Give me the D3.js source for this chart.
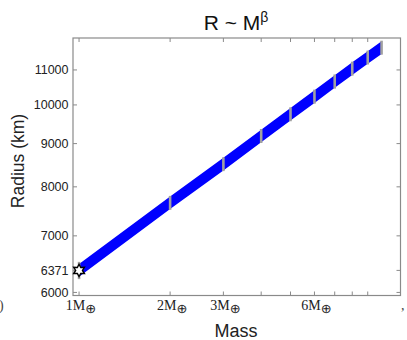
<!DOCTYPE html>
<html>
<head>
<meta charset="utf-8">
<script src="https://cdn.jsdelivr.net/npm/d3@7/dist/d3.min.js"></script>
<style>
  html, body { margin: 0; padding: 0; background: #fff; }
  svg { display: block; }
</style>
</head>
<body>
<svg id="chart" width="407" height="340"></svg>
<script>
// Planet mass (Earth masses) and radius (km) along the R ~ M^beta relation
const masses = [1, 2, 3, 4, 5, 6, 7, 8, 9, 10];
const radii = [6371, 7660, 8510, 9190, 9750, 10230, 10660, 11040, 11380, 11690];
const radiusErr = [150, 145, 160, 175, 185, 195, 205, 210, 215, 222];

// Earth reference point
const earthMass = [1];
const earthRadius = [6371];

// Axis ticks
const yTicks = [6000, 6371, 7000, 8000, 9000, 10000, 11000];
const xTicks = [1, 2, 3, 4, 5, 6, 7, 8, 9];
const xLabelled = [1, 2, 3, 6];

const svg = d3.select("#chart");
const plotL = 73, plotR = 400.5, plotT = 38, plotB = 295.5;

const x = d3.scaleLog().domain([0.955, 11.55]).range([plotL, plotR]);
const y = d3.scaleLog().domain([5950, 12000]).range([plotB, plotT]);

const frameColor = "#8a8a8a";
const tickLen = 4;

// Blue band of the power-law fit
const bandHalf = 6.3;
const pts = masses.map((m, i) => ({ m, r: radii[i], e: radiusErr[i] }));
svg.append("path")
  .datum(pts)
  .attr("fill", "#0000ff")
  .attr("d", d3.area()
    .x(d => x(d.m))
    .y0(d => y(d.r) + bandHalf)
    .y1(d => y(d.r) - bandHalf));

// Grey uncertainty bars at each mass
svg.append("g").selectAll("line")
  .data(pts)
  .join("line")
  .attr("x1", d => x(d.m)).attr("x2", d => x(d.m))
  .attr("y1", d => y(d.r - d.e)).attr("y2", d => y(d.r + d.e))
  .attr("stroke", "#a0a0a0")
  .attr("stroke-width", 2.6);

// Frame
svg.append("rect")
  .attr("x", plotL).attr("y", plotT)
  .attr("width", plotR - plotL).attr("height", plotB - plotT)
  .attr("fill", "none")
  .attr("stroke", frameColor)
  .attr("stroke-width", 1.2);

// Inward ticks on all four sides
const tg = svg.append("g").attr("stroke", frameColor).attr("stroke-width", 1);
yTicks.forEach(v => {
  tg.append("line").attr("x1", plotL).attr("x2", plotL + tickLen).attr("y1", y(v)).attr("y2", y(v));
  tg.append("line").attr("x1", plotR).attr("x2", plotR - tickLen).attr("y1", y(v)).attr("y2", y(v));
});
xTicks.forEach(v => {
  tg.append("line").attr("x1", x(v)).attr("x2", x(v)).attr("y1", plotB).attr("y2", plotB - tickLen);
  tg.append("line").attr("x1", x(v)).attr("x2", x(v)).attr("y1", plotT).attr("y2", plotT + tickLen);
});

// Y tick labels
svg.append("g").selectAll("text")
  .data(yTicks)
  .join("text")
  .attr("x", plotL - 4.5)
  .attr("y", d => y(d))
  .attr("dy", "0.35em")
  .attr("text-anchor", "end")
  .attr("font-family", "'Liberation Sans', Arial, sans-serif")
  .attr("font-size", 12.5)
  .attr("fill", "#222")
  .text(d => d);

// X tick labels: nM⊕
const xl = svg.append("g").selectAll("text")
  .data(xLabelled)
  .join("text")
  .attr("x", d => x(d) + 2)
  .attr("y", 310)
  .attr("text-anchor", "middle")
  .attr("font-family", "'Liberation Serif', 'Times New Roman', serif")
  .attr("font-size", 14)
  .attr("fill", "#222");
xl.append("tspan").text(d => d + "M");
xl.append("tspan").attr("dy", 2.5).attr("font-size", 13)
  .attr("font-family", "'DejaVu Sans', sans-serif").text("\u2295");

// Earth marker: six-pointed star
const starPts = d3.range(12).map(i => [i * Math.PI / 6, i % 2 === 0 ? 6.2 : 3.4]);
const starPath = d3.lineRadial().curve(d3.curveLinearClosed)(starPts);
svg.append("g").selectAll("path")
  .data(earthMass.map((m, i) => ({ m, r: earthRadius[i] })))
  .join("path")
  .attr("transform", d => `translate(${x(d.m)},${y(d.r)})`)
  .attr("d", starPath)
  .attr("fill", "#fff")
  .attr("stroke", "#000")
  .attr("stroke-width", 1.4);

// Titles
const title = svg.append("text")
  .attr("x", 236).attr("y", 30)
  .attr("text-anchor", "middle")
  .attr("font-family", "'Liberation Sans', Arial, sans-serif")
  .attr("font-size", 21)
  .attr("fill", "#111");
title.append("tspan").text("R ~ M");
title.append("tspan").attr("dy", -8).attr("font-size", 14).text("\u03b2");

svg.append("text")
  .attr("x", 236).attr("y", 337)
  .attr("text-anchor", "middle")
  .attr("font-family", "'Liberation Sans', Arial, sans-serif")
  .attr("font-size", 18)
  .attr("fill", "#222")
  .text("Mass");

svg.append("text")
  .attr("transform", "translate(24,161) rotate(-90)")
  .attr("text-anchor", "middle")
  .attr("font-family", "'Liberation Sans', Arial, sans-serif")
  .attr("font-size", 17.5)
  .attr("fill", "#222")
  .text("Radius (km)");

// Edge fragments of neighbouring labels
svg.append("text").attr("x", -1).attr("y", 310)
  .attr("font-family", "'Liberation Serif', serif").attr("font-size", 14).attr("fill", "#444").text(")");
svg.append("text").attr("x", 401).attr("y", 310)
  .attr("font-family", "'Liberation Serif', serif").attr("font-size", 14).attr("fill", "#444").text(",");
</script>
</body>
</html>
